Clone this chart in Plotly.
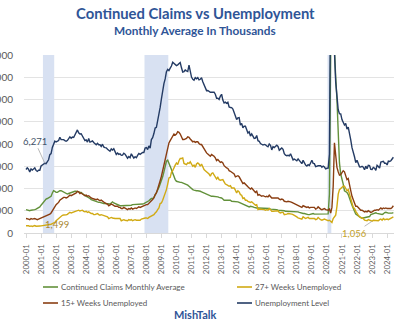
import plotly.graph_objects as go

# Monthly observations, 2000-01 .. 2024-06 (thousands)
start_year, n_months = 2000, 294
months = [f"{start_year + i // 12}-{i % 12 + 1:02d}" for i in range(n_months)]

continued_claims = [
    2100, 2050, 2000, 2000, 2050, 2050, 2100, 2100, 2150, 2200, 2250, 2350,
    2500, 2650, 2800, 2950, 3050, 3100, 3150, 3200, 3300, 3600, 3800, 3750,
    3650, 3650, 3750, 3800, 3800, 3750, 3650, 3600, 3550, 3500, 3550, 3600,
    3600, 3650, 3700, 3750, 3750, 3750, 3700, 3650, 3650, 3550, 3450, 3400,
    3300, 3250, 3200, 3100, 3000, 2950, 2900, 2900, 2850, 2800, 2750, 2750,
    2700, 2700, 2650, 2650, 2650, 2600, 2600, 2600, 2700, 2800, 2700, 2650,
    2550, 2500, 2450, 2450, 2450, 2450, 2450, 2450, 2450, 2450, 2500, 2500,
    2500, 2550, 2550, 2550, 2550, 2550, 2550, 2550, 2550, 2600, 2650, 2700,
    2750, 2800, 2900, 3000, 3100, 3100, 3200, 3400, 3600, 3800, 4100, 4400,
    4700, 5050, 5500, 6000, 6450, 6550, 6200, 6000, 5700, 5400, 5000, 4800,
    4650, 4600, 4550, 4550, 4550, 4500, 4450, 4400, 4400, 4300, 4200, 4100,
    3950, 3900, 3850, 3800, 3800, 3800, 3800, 3750, 3700, 3650, 3600, 3550,
    3450, 3400, 3350, 3300, 3300, 3300, 3300, 3300, 3250, 3250, 3200, 3200,
    3150, 3050, 2950, 2950, 2950, 2950, 2950, 2950, 2850, 2850, 2800, 2850,
    2850, 2800, 2750, 2700, 2650, 2550, 2500, 2500, 2400, 2350, 2350, 2400,
    2400, 2350, 2300, 2250, 2250, 2250, 2250, 2250, 2200, 2200, 2200, 2250,
    2250, 2250, 2200, 2150, 2150, 2150, 2150, 2150, 2100, 2050, 2050, 2050,
    2050, 2050, 2000, 1950, 1950, 1950, 1950, 1950, 1950, 1900, 1900, 1950,
    1950, 1900, 1850, 1800, 1750, 1750, 1750, 1700, 1650, 1650, 1650, 1700,
    1750, 1750, 1700, 1700, 1700, 1700, 1700, 1700, 1680, 1700, 1700, 1720,
    1720, 1720, 3500, 16500, 21500, 18500, 16500, 14000, 12000, 8800, 6300, 5300,
    4900, 4400, 3800, 3700, 3650, 3450, 3050, 2800, 2500, 2150, 1950, 1700,
    1600, 1500, 1420, 1380, 1330, 1350, 1380, 1420, 1380, 1400, 1480, 1650,
    1690, 1680, 1780, 1810, 1760, 1740, 1700, 1690, 1670, 1720, 1840, 1860,
    1810, 1790, 1790, 1780, 1790, 1830,
]

weeks_27_plus = [
    649, 680, 650, 601, 633, 590, 640, 673, 612, 601, 581, 634,
    641, 657, 678, 674, 680, 733, 710, 747, 787, 840, 889, 958,
    1100, 1200, 1336, 1478, 1547, 1591, 1617, 1603, 1629, 1679, 1743, 1866,
    1800, 1850, 1900, 1950, 1980, 2000, 2050, 1980, 2000, 2050, 1950, 1900,
    1950, 1850, 1900, 1800, 1750, 1750, 1650, 1650, 1700, 1750, 1650, 1600,
    1650, 1600, 1550, 1500, 1450, 1450, 1300, 1350, 1400, 1350, 1300, 1300,
    1300, 1300, 1250, 1300, 1100, 1150, 1200, 1150, 1150, 1100, 1200, 1150,
    1200, 1100, 1150, 1200, 1150, 1150, 1200, 1150, 1250, 1300, 1300, 1350,
    1350, 1300, 1400, 1450, 1550, 1550, 1650, 1800, 1900, 2100, 2250, 2650,
    2700, 2950, 3250, 3700, 3900, 4400, 4950, 5000, 5450, 5600, 5900, 6100,
    6300, 6150, 6500, 6700, 6700, 6750, 6250, 6200, 6150, 6300, 6250, 6400,
    6200, 6000, 6100, 5900, 6200, 6300, 6200, 6000, 6200, 5900, 5700, 5600,
    5500, 5400, 5300, 5100, 5350, 5400, 5200, 5050, 4850, 5000, 4800, 4750,
    4750, 4800, 4600, 4400, 4350, 4300, 4200, 4250, 4050, 4050, 4050, 3850,
    3600, 3800, 3700, 3450, 3400, 3100, 3150, 2950, 2950, 2850, 2800, 2750,
    2800, 2700, 2550, 2500, 2550, 2100, 2150, 2150, 2100, 2100, 2100, 2050,
    2100, 2050, 2200, 2100, 1950, 1950, 1950, 2000, 2000, 2000, 1850, 1800,
    1850, 1850, 1650, 1650, 1700, 1750, 1750, 1700, 1700, 1650, 1600, 1550,
    1450, 1350, 1300, 1300, 1250, 1450, 1400, 1300, 1350, 1400, 1300, 1300,
    1300, 1250, 1300, 1200, 1250, 1400, 1250, 1200, 1150, 1200, 1250, 1200,
    1150, 1100, 1150, 1000, 950, 1300, 1450, 1600, 2400, 3500, 3900, 4000,
    4050, 4200, 4200, 4000, 3800, 3900, 3400, 3150, 2700, 2300, 2200, 1950,
    1700, 1600, 1450, 1400, 1400, 1300, 1150, 1150, 1100, 1200, 1150, 1100,
    1056, 1150, 1150, 1150, 1100, 1100, 1200, 1250, 1150, 1300, 1200, 1250,
    1250, 1200, 1250, 1300, 1350, 1450,
]

weeks_15_plus = [
    1300, 1300, 1250, 1200, 1300, 1250, 1300, 1300, 1250, 1200, 1250, 1300,
    1350, 1400, 1450, 1499, 1500, 1600, 1650, 1700, 1800, 2000, 2200, 2400,
    2550, 2650, 2750, 2950, 3050, 3150, 3200, 3200, 3150, 3200, 3300, 3400,
    3350, 3400, 3450, 3550, 3600, 3750, 3700, 3550, 3600, 3500, 3450, 3350,
    3400, 3300, 3350, 3200, 3150, 3100, 3050, 3000, 3000, 3050, 2950, 2900,
    2950, 2850, 2750, 2700, 2650, 2600, 2450, 2500, 2600, 2550, 2450, 2400,
    2400, 2400, 2300, 2300, 2200, 2200, 2300, 2250, 2150, 2100, 2200, 2150,
    2250, 2150, 2200, 2250, 2200, 2300, 2350, 2300, 2350, 2450, 2450, 2550,
    2550, 2550, 2700, 2750, 2900, 3000, 3150, 3450, 3600, 3950, 4250, 4700,
    5100, 5600, 6100, 6600, 7200, 7700, 8100, 8300, 8500, 8800, 8900, 8800,
    8900, 9100, 9050, 8900, 8600, 8400, 8400, 8450, 8500, 8650, 8600, 8450,
    8300, 8200, 8250, 8150, 8200, 8200, 8050, 7950, 7950, 7750, 7500, 7350,
    7200, 7100, 7000, 6900, 7050, 7000, 6900, 6750, 6500, 6600, 6450, 6350,
    6400, 6300, 6050, 5900, 5850, 5800, 5600, 5550, 5450, 5400, 5300, 5050,
    5100, 5150, 5050, 4800, 4700, 4450, 4500, 4350, 4200, 4150, 4050, 3950,
    4050, 3900, 3750, 3650, 3750, 3400, 3450, 3400, 3300, 3350, 3300, 3250,
    3300, 3250, 3400, 3300, 3150, 3150, 3150, 3200, 3200, 3150, 3050, 3000,
    3050, 3000, 2850, 2800, 2800, 2850, 2850, 2800, 2750, 2700, 2650, 2600,
    2500, 2450, 2400, 2350, 2300, 2450, 2400, 2300, 2300, 2350, 2250, 2300,
    2300, 2250, 2300, 2150, 2200, 2350, 2200, 2150, 2100, 2150, 2200, 2100,
    2100, 2050, 2150, 1800, 2300, 4200, 8100, 6600, 5900, 5500, 5200, 5250,
    5400, 5600, 5500, 5000, 4800, 4900, 4200, 3800, 3300, 2900, 2700, 2400,
    2400, 2300, 2150, 2050, 2050, 1950, 1900, 1950, 1900, 2000, 1950, 1850,
    1900, 2000, 2050, 2050, 2100, 2050, 2150, 2250, 2150, 2250, 2200, 2250,
    2200, 2200, 2250, 2200, 2300, 2450,
]

unemployment_level = [
    5708, 5858, 5733, 5481, 5758, 5651, 5747, 5853, 5625, 5534, 5639, 5634,
    6023, 6089, 6141, 6271, 6226, 6484, 6583, 7042, 7142, 7694, 8003, 8258,
    8182, 8215, 8304, 8599, 8399, 8393, 8390, 8304, 8251, 8307, 8520, 8640,
    8520, 8618, 8588, 8842, 8957, 9266, 9011, 8896, 8921, 8732, 8576, 8317,
    8370, 8167, 8491, 8170, 8212, 8286, 8136, 7990, 7927, 8061, 7932, 7934,
    7784, 7980, 7737, 7672, 7651, 7524, 7406, 7345, 7553, 7453, 7566, 7279,
    7064, 7184, 7072, 7120, 6980, 7001, 7175, 7091, 6847, 6727, 6872, 6762,
    7116, 6927, 6731, 6850, 6766, 6979, 7149, 7067, 7170, 7237, 7240, 7645,
    7685, 7497, 7822, 7637, 8395, 8575, 8937, 9438, 9494, 10074, 10538, 11286,
    12058, 12898, 13426, 13853, 14499, 14707, 14601, 14814, 15009, 15352, 15219, 15098,
    15046, 15113, 15202, 15325, 14849, 14474, 14512, 14648, 14579, 14516, 15081, 14348,
    14013, 13820, 13737, 13957, 13855, 13962, 13763, 13818, 13948, 13594, 13302, 13093,
    12797, 12813, 12713, 12646, 12660, 12692, 12656, 12471, 12115, 12124, 12005, 12298,
    12471, 11950, 11689, 11760, 11654, 11751, 11335, 11279, 11270, 11136, 10787, 10404,
    10202, 10349, 10380, 9702, 9859, 9460, 9608, 9599, 9262, 8990, 9090, 8717,
    8903, 8610, 8504, 8526, 8771, 8299, 8248, 8038, 7925, 7907, 7964, 7927,
    7815, 7749, 7999, 7883, 7468, 7762, 7681, 7787, 7892, 7780, 7435, 7540,
    7647, 7523, 7136, 7003, 6949, 6981, 6931, 7123, 6835, 6573, 6647, 6590,
    6489, 6658, 6519, 6374, 6232, 6532, 6251, 6102, 6023, 6150, 6067, 6392,
    6546, 6261, 6235, 5963, 6030, 6046, 6043, 6057, 5914, 6014, 5928, 5761,
    5818, 5829, 7088, 23109, 20919, 17825, 16312, 13566, 12559, 11080, 10720, 10700,
    10199, 9969, 9713, 9841, 9330, 9527, 8743, 8372, 7674, 7350, 6852, 6326,
    6538, 6255, 5951, 5930, 5998, 5916, 5686, 6008, 5769, 6081, 6065, 5720,
    5714, 5900, 5828, 5635, 6085, 5977, 5840, 6383, 6410, 6435, 6274, 6279,
    6118, 6456, 6429, 6492, 6649, 6811,
]

# Recession periods (first and last month)
recession_start = ["2001-03", "2007-12", "2020-02"]
recession_end = ["2001-11", "2009-06", "2020-04"]

y_ticks = [0, 2000, 4000, 6000, 8000, 10000, 12000, 14000, 16000]
x_ticks = [m for m in months if m.endswith("-01")]

series = [
    ("Continued Claims Monthly Average", continued_claims, "#62913A"),
    ("27+ Weeks Unemployed", weeks_27_plus, "#D1AA14"),
    ("15+ Weeks Unemployed", weeks_15_plus, "#8A3E12"),
    ("Unemployment Level", unemployment_level, "#243B64"),
]

W, H = 394, 330
L, R, T, B = 24, 0, 55, 97
PW, PH = W - L - R, H - T - B


def px(x):
    return (x - L) / PW


def py(y):
    return (H - B - y) / PH


fig = go.Figure()
for name, vals, color in series:
    fig.add_trace(go.Scatter(
        x=months, y=vals, mode="lines", name=name,
        line=dict(color=color, width=1.4), showlegend=False,
    ))

idx = {m: i for i, m in enumerate(months)}
for s, e in zip(recession_start, recession_end):
    fig.add_shape(type="rect", xref="x", yref="y", layer="between",
                  x0=idx[s] - 0.5, x1=idx[e] + 0.5, y0=0, y1=16000,
                  fillcolor="#D8E1F2", line_width=0)

# Value callouts
def callout(month, vals, text, color, ax, ay, xanchor="center"):
    fig.add_annotation(x=month, y=vals[idx[month]], xref="x", yref="y",
                       text=text, showarrow=True, arrowhead=0, arrowwidth=0.8,
                       arrowcolor="#A6A6A6", ax=ax, ay=ay, standoff=0,
                       font=dict(family="Lato", size=9.5, color=color),
                       xanchor=xanchor)

callout("2001-04", unemployment_level, "6,271", "#44546A", -10, -22)
fig.add_annotation(x="2001-04", y=weeks_15_plus[idx["2001-04"]], xref="x", yref="y",
                   text="1,499", showarrow=False, xanchor="left", yanchor="top",
                   xshift=-2, yshift=-1,
                   font=dict(family="Lato", size=9.5, color="#A98632"))
callout("2023-01", weeks_27_plus, "1,056", "#C4A12A", -18, 12)

# Titles
fig.add_annotation(x=px(195), xref="paper", y=py(13), yref="paper", showarrow=False,
                   xanchor="center", yanchor="middle",
                   text="<b>Continued Claims vs Unemployment</b>",
                   font=dict(family="Lato", size=14.8, color="#2F5597"))
fig.add_annotation(x=px(195), xref="paper", y=py(30), yref="paper", showarrow=False,
                   xanchor="center", yanchor="middle",
                   text="<b>Monthly Average In Thousands</b>",
                   font=dict(family="Lato", size=11.8, color="#2F5597"))
fig.add_annotation(x=px(195), xref="paper", y=py(314), yref="paper", showarrow=False,
                   xanchor="center", yanchor="middle", text="<b>MishTalk</b>",
                   font=dict(family="Lato", size=11, color="#2F5597"))

# Legend, two columns
legend_pos = [(43, 287), (237, 287), (43, 303), (237, 303)]
for (lx, ly), (name, _, color) in zip(legend_pos, series):
    fig.add_shape(type="line", xref="paper", yref="paper",
                  x0=px(lx), x1=px(lx + 15), y0=py(ly), y1=py(ly),
                  line=dict(color=color, width=1.6))
    fig.add_annotation(x=px(lx + 15.5), xref="paper", y=py(ly), yref="paper",
                       showarrow=False, xanchor="left", yanchor="middle",
                       text=name, font=dict(family="Lato", size=8, color="#595959"))

fig.update_layout(
    width=W, height=H, template="none",
    margin=dict(l=L, r=R, t=T, b=B, pad=0),
    paper_bgcolor="white", plot_bgcolor="white",
    xaxis=dict(
        type="category", categoryorder="array", categoryarray=months,
        range=[-1.6, 293.5], tickmode="array", tickvals=x_ticks, ticktext=x_ticks,
        tickangle=-90, tickfont=dict(family="Lato", size=7.8, color="#595959"),
        showgrid=False, showline=True, linecolor="#D9D9D9", linewidth=1,
        ticks="outside", ticklen=4, tickcolor="#D9D9D9", automargin=False,
        zeroline=False, ticklabelstandoff=3,
    ),
    yaxis=dict(
        range=[0, 16000], tickvals=y_ticks, tickformat=",",
        tickfont=dict(family="Lato", size=10, color="#595959"),
        showgrid=True, gridcolor="#E3E3E3", gridwidth=1, zeroline=False,
        showline=False, ticks="", automargin=False, ticklabelstandoff=10,
    ),
)

fig.write_html("out.html")
